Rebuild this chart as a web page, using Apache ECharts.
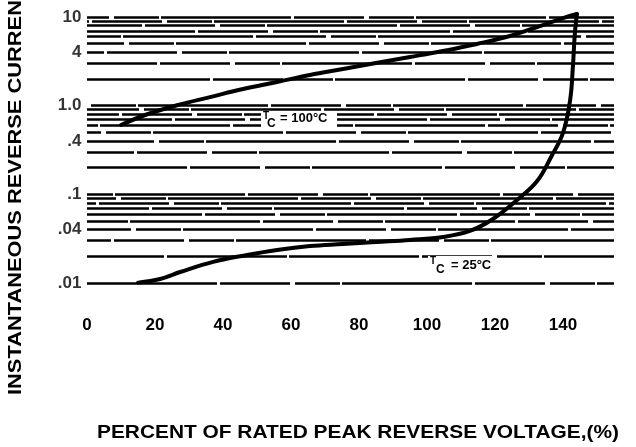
<!DOCTYPE html>
<html><head><meta charset="utf-8">
<script src="https://cdn.jsdelivr.net/npm/echarts@6/dist/echarts.min.js"></script>
<style>html,body{margin:0;padding:0;background:#fff}#c{width:636px;height:447px}</style>
</head><body><div id="c"></div>
<script>
// Tc = 100°C curve
const xTc100 = [10.0,17.1,26.8,36.2,45.9,55.9,65.6,75.3,85.0,95.0,104.7,114.7,124.4,133.2,140.0,144.1];
const yTc100 = [0.605,0.785,1.02,1.25,1.54,1.85,2.22,2.59,3.03,3.54,4.14,4.97,6.11,7.91,9.74,10.8];
// Tc = 25°C curve
const xTc25 = [15.0,21.5,27.4,37.1,47.1,55.9,65.6,75.3,85.0,95.0,104.7,112.6,119.4,126.5,132.4,136.5,140.0,142.1,142.9,143.5,144.1];
const yTc25 = [0.0101,0.0111,0.0133,0.0173,0.0207,0.0236,0.0261,0.0275,0.0290,0.0306,0.0330,0.0386,0.0527,0.0863,0.141,0.264,0.492,1.16,2.73,6.6,10.8];
// y tick labels
const yTickValues = [10,4,1,0.4,0.1,0.04,0.01];
const yTickLabels = ['10','4','1.0','.4','.1','.04','.01'];
// horizontal log grid lines
const gridValues = [0.01,0.02,0.03,0.04,0.05,0.06,0.07,0.08,0.09,
                    0.1,0.2,0.3,0.4,0.5,0.6,0.7,0.8,0.9,
                    1,2,3,4,5,6,7,8,9,10];

const FF = '"Liberation Sans", Arial, sans-serif';
const chart = echarts.init(document.getElementById('c'), null, {renderer:'canvas'});
const pairs = (xs, ys) => xs.map((x, i) => [x, ys[i]]);

chart.setOption({
  animation: false,
  backgroundColor: '#fff',
  grid: {left: 87, right: 22, top: 13, bottom: 164, containLabel: false, outerBoundsMode: 'none'},
  xAxis: {
    type: 'value', min: 0, max: 155, interval: 20,
    axisLine: {show: false}, axisTick: {show: false}, splitLine: {show: false},
    axisLabel: {show: true, showMaxLabel: false, margin: 34, color: '#000',
      fontSize: 17, fontWeight: 'bold', fontFamily: FF}
  },
  yAxis: {
    type: 'log', logBase: 10, min: 0.01, max: 11.1,
    axisLine: {show: false}, axisTick: {show: false}, splitLine: {show: false},
    axisLabel: {show: false}
  },
  series: [
    {
      type: 'scatter', name: 'ticks', silent: true, z: 2,
      data: yTickValues.map(v => [0, v]),
      symbolSize: 1, itemStyle: {color: 'rgba(0,0,0,0)'},
      label: {show: true, position: 'left', distance: 5,
        formatter: p => yTickLabels[p.dataIndex],
        color: '#000', fontSize: 17, fontWeight: 'bold', fontFamily: FF},
      markLine: {
        silent: true, symbol: ['none', 'none'], animation: false,
        label: {show: false},
        lineStyle: {color: '#000', width: 2.5, type: [130, 3, 70, 5, 45, 2], opacity: 1},
        emphasis: {disabled: true},
        data: gridValues.map((v, i) => ({yAxis: v, lineStyle: {dashOffset: (i * 53) % 250}}))
      }
    },
    {
      type: 'line', name: 'Tc=100°C', z: 4, smooth: 0.4,
      symbol: 'none', data: pairs(xTc100, yTc100),
      lineStyle: {color: '#000', width: 4, cap: 'round', join: 'round'}
    },
    {
      type: 'line', name: 'Tc=25°C', z: 4, smooth: 0.4,
      symbol: 'none', data: pairs(xTc25, yTc25),
      lineStyle: {color: '#000', width: 4, cap: 'round', join: 'round'}
    }
  ],
  graphic: [
    {type: 'text', x: 16, y: 395, rotation: Math.PI / 2, scaleX: 1.15, z: 100,
      style: {text: 'INSTANTANEOUS REVERSE CURRENT', font: 'bold 19px ' + FF, fill: '#000',
        align: 'left', textAlign: 'left', verticalAlign: 'middle', textVerticalAlign: 'middle'}},
    {type: 'text', x: 97, y: 433, scaleX: 1.16, z: 100,
      style: {text: 'PERCENT OF RATED PEAK REVERSE VOLTAGE,(%)', font: 'bold 18px ' + FF, fill: '#000',
        align: 'left', textAlign: 'left', verticalAlign: 'middle', textVerticalAlign: 'middle'}},
    // Tc = 100°C annotation
    {type: 'rect', shape: {x: 261, y: 111, width: 76, height: 18}, style: {fill: '#fff'}, z: 99},
    {type: 'text', x: 263, y: 111, z: 100, style: {text: 'T', font: 'bold 10px ' + FF, fill: '#000', verticalAlign: 'top', textVerticalAlign: 'top'}},
    {type: 'text', x: 267, y: 118, z: 100, style: {text: 'C', font: 'bold 12px ' + FF, fill: '#000', verticalAlign: 'top', textVerticalAlign: 'top'}},
    {type: 'text', x: 280, y: 112, z: 100, style: {text: '= 100°C', font: 'bold 13px ' + FF, fill: '#000', verticalAlign: 'top', textVerticalAlign: 'top'}},
    // Tc = 25°C annotation
    {type: 'rect', shape: {x: 428, y: 256, width: 68, height: 22}, style: {fill: '#fff'}, z: 99},
    {type: 'text', x: 430, y: 256, z: 100, style: {text: 'T', font: 'bold 10px ' + FF, fill: '#000', verticalAlign: 'top', textVerticalAlign: 'top'}},
    {type: 'text', x: 436, y: 264, z: 100, style: {text: 'C', font: 'bold 12px ' + FF, fill: '#000', verticalAlign: 'top', textVerticalAlign: 'top'}},
    {type: 'text', x: 451, y: 259, z: 100, style: {text: '= 25°C', font: 'bold 13px ' + FF, fill: '#000', verticalAlign: 'top', textVerticalAlign: 'top'}}
  ]
});
</script>
</body></html>
